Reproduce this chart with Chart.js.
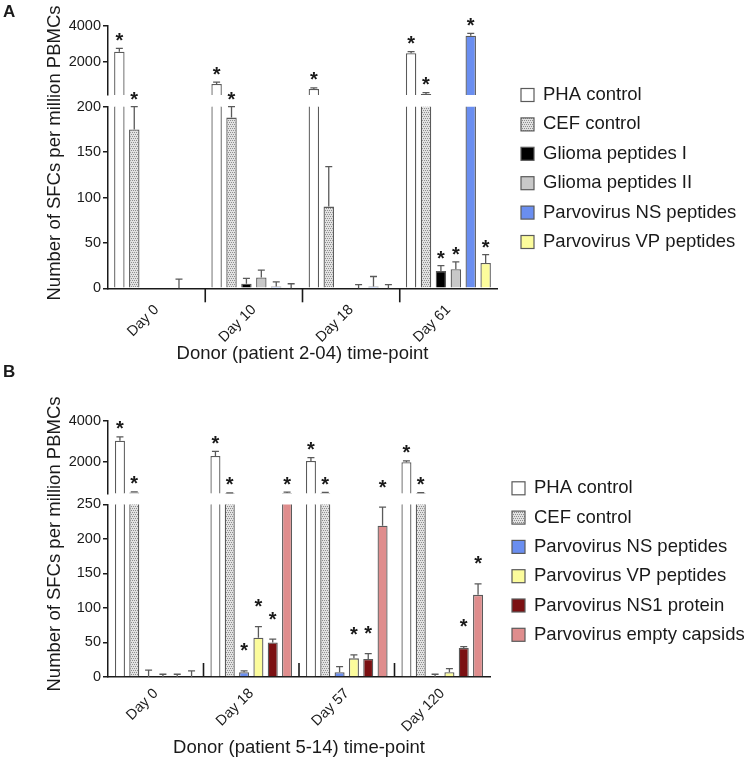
<!DOCTYPE html>
<html>
<head>
<meta charset="utf-8">
<script src="https://cdn.jsdelivr.net/npm/chart.js@4.4.1/dist/chart.umd.min.js"></script>
<style>
  html, body { margin: 0; padding: 0; background: #fff; }
  #wrap { position: relative; width: 744px; height: 760px; }
  #wrap canvas { position: absolute; left: 0; top: 0; }
</style>
</head>
<body>
<div id="wrap">
  <canvas id="aTop" width="744" height="760"></canvas>
  <canvas id="aBottom" width="744" height="760"></canvas>
  <canvas id="bTop" width="744" height="760"></canvas>
  <canvas id="bBottom" width="744" height="760"></canvas>
</div>
<script>
// ---------- panel A (patient 2-04) ----------
const daysA = ['Day 0', 'Day 10', 'Day 18', 'Day 61'];
const phaA = [2575, 800, 530, 2490];
const phaErrA = [185, 110, 60, 90];
const cefA = [175, 188, 90, 255];
const cefErrA = [25, 12, 44, 70];
const gliomaIA = [null, 5, null, 19];
const gliomaIErrA = [0, 6, 0, 6];
const gliomaIIA = [null, 12, 0, 21];
const gliomaIIErrA = [0, 8, 4, 8];
const nsA = [0, 2, 2, 3450];
const nsErrA = [10, 5, 11, 130];
const vpA = [null, 0, 0, 28];
const vpErrA = [0, 5, 4, 9];
const phaStarA = [1, 1, 1, 1];
const cefStarA = [1, 1, 0, 1];
const gliomaIStarA = [0, 0, 0, 1];
const gliomaIIStarA = [0, 0, 0, 1];
const nsStarA = [0, 0, 0, 1];
const vpStarA = [0, 0, 0, 1];
const upperTicksA = [2000, 4000];
const lowerTicksA = [0, 50, 100, 150, 200];

// ---------- panel B (patient 5-14) ----------
const daysB = ['Day 0', 'Day 18', 'Day 57', 'Day 120'];
const phaB = [3030, 2300, 2060, 2000];
const phaErrB = [190, 220, 160, 60];
const cefB = [540, 510, 520, 520];
const cefErrB = [30, 10, 20, 15];
const nsB = [0, 7, 7, 0];
const nsErrB = [10, 2, 8, 4];
const vpB = [0, 57, 27, 7];
const vpErrB = [4, 16, 5, 5];
const ns1B = [0, 50, 26, 42];
const ns1ErrB = [4, 5, 8, 2];
const capsidB = [0, 520, 219, 119];
const capsidErrB = [9, 40, 27, 16];
const phaStarB = [1, 1, 1, 1];
const cefStarB = [1, 1, 1, 1];
const nsStarB = [0, 1, 0, 0];
const vpStarB = [0, 1, 1, 0];
const ns1StarB = [0, 1, 1, 1];
const capsidStarB = [0, 1, 1, 1];
const upperTicksB = [2000, 4000];
const lowerTicksB = [0, 50, 100, 150, 200, 250];

const FONT = '"Liberation Sans", Arial, Helvetica, sans-serif';
const INK = '#1a1a1a';
Chart.defaults.font.family = FONT;
Chart.defaults.color = INK;

// stippled grey fill for the CEF control
function stipple() {
    let c = document.createElement('canvas');
    c.width = 4; c.height = 4;
    let g = c.getContext('2d');
    g.fillStyle = '#e2e2e2';
    g.fillRect(0, 0, 4, 4);
    g.fillStyle = '#8e8e8e';
    [[0, 0], [2, 0], [1, 2], [3, 2]].forEach(p => g.fillRect(p[0], p[1], 1, 1));
    return g.createPattern(c, 'repeat');
}
const cefFill = stipple();

function series(label, fill, data, errors, stars) {
    return { label, fill, data, errors, stars };
}

const seriesA = [
    series('PHA control', '#ffffff', phaA, phaErrA, phaStarA),
    series('CEF control', cefFill, cefA, cefErrA, cefStarA),
    series('Glioma peptides I', '#000000', gliomaIA, gliomaIErrA, gliomaIStarA),
    series('Glioma peptides II', '#c8c8c8', gliomaIIA, gliomaIIErrA, gliomaIIStarA),
    series('Parvovirus NS peptides', '#6a8ef0', nsA, nsErrA, nsStarA),
    series('Parvovirus VP peptides', '#fcfc9c', vpA, vpErrA, vpStarA)
];
const seriesB = [
    series('PHA control', '#ffffff', phaB, phaErrB, phaStarB),
    series('CEF control', cefFill, cefB, cefErrB, cefStarB),
    series('Parvovirus NS peptides', '#6a8ef0', nsB, nsErrB, nsStarB),
    series('Parvovirus VP peptides', '#fcfc9c', vpB, vpErrB, vpStarB),
    series('Parvovirus NS1 protein', '#7b1012', ns1B, ns1ErrB, ns1StarB),
    series('Parvovirus empty capsids', '#df8d8d', capsidB, capsidErrB, capsidStarB)
];

function datasets(list) {
    return list.map(s => ({
        label: s.label,
        data: s.data.slice(),
        errors: s.errors,
        stars: s.stars,
        backgroundColor: s.fill,
        borderColor: '#5a5a5a',
        borderWidth: 1.3,
        borderSkipped: 'start',
        clip: 0
    }));
}

// upward error bars, clipped to the segment
const errorBars = {
    id: 'errorBars',
    afterDatasetsDraw(chart) {
        let ctx = chart.ctx, y = chart.scales.y;
        ctx.save();
        ctx.strokeStyle = '#5a5a5a';
        ctx.lineWidth = 1.3;
        chart.data.datasets.forEach((ds, di) => {
            let meta = chart.getDatasetMeta(di);
            ds.data.forEach((v, i) => {
                if (v == null || !ds.errors[i]) return;
                let top = v + ds.errors[i];
                let lo = Math.max(v, y.min), hi = Math.min(top, y.max);
                if (hi <= lo) return;
                let x = meta.data[i].x;
                let y0 = y.getPixelForValue(lo), y1 = y.getPixelForValue(hi);
                ctx.beginPath();
                ctx.moveTo(x, y0); ctx.lineTo(x, y1);
                if (top <= y.max) { ctx.moveTo(x - 3.5, y1); ctx.lineTo(x + 3.5, y1); }
                ctx.stroke();
            });
        });
        ctx.restore();
    }
};

// significance asterisks
const starMarks = {
    id: 'starMarks',
    afterDraw(chart, args, opts) {
        let ctx = chart.ctx, y = chart.scales.y;
        ctx.save();
        ctx.font = 'bold 20px ' + FONT;
        ctx.fillStyle = INK;
        ctx.textAlign = 'center';
        ctx.textBaseline = 'alphabetic';
        chart.data.datasets.forEach((ds, di) => {
            let meta = chart.getDatasetMeta(di);
            ds.data.forEach((v, i) => {
                if (v == null || !ds.stars[i]) return;
                let top = v + ds.errors[i];
                let cy;
                if (opts.upper) {
                    if (top <= opts.split) return;
                    cy = y.getPixelForValue(Math.max(top, y.min)) - opts.offset;
                } else {
                    if (top > opts.split) return;
                    cy = y.getPixelForValue(top) - opts.offset;
                }
                ctx.fillText('*', meta.data[i].x, cy + 11.5);
            });
        });
        ctx.restore();
    }
};

// separators between the time-points on the x axis
const groupTicks = {
    id: 'groupTicks',
    afterDraw(chart, args, opts) {
        if (!opts.len) return;
        let ctx = chart.ctx, x = chart.scales.x, base = chart.chartArea.bottom;
        ctx.save();
        ctx.strokeStyle = INK;
        ctx.lineWidth = 1.6;
        for (let i = 0; i < x.ticks.length - 1; i++) {
            let px = (x.getPixelForTick(i) + x.getPixelForTick(i + 1)) / 2;
            ctx.beginPath();
            ctx.moveTo(px, base);
            ctx.lineTo(px, base + opts.len);
            ctx.stroke();
        }
        ctx.restore();
    }
};

// legend, panel letter and shared y title
const panelDecor = {
    id: 'panelDecor',
    afterDraw(chart, args, opts) {
        if (!opts.letter) return;
        let ctx = chart.ctx;
        ctx.save();
        ctx.fillStyle = INK;
        ctx.font = 'bold 17px ' + FONT;
        ctx.textAlign = 'left';
        ctx.textBaseline = 'alphabetic';
        ctx.fillText(opts.letter, 3, opts.letterY);

        ctx.translate(opts.titleX, opts.titleY);
        ctx.rotate(-Math.PI / 2);
        ctx.font = '18.5px ' + FONT;
        ctx.textAlign = 'center';
        ctx.textBaseline = 'middle';
        ctx.fillText('Number of SFCs per million PBMCs', 0, 0);
        ctx.setTransform(1, 0, 0, 1, 0, 0);

        ctx.font = '18.5px ' + FONT;
        ctx.textAlign = 'left';
        chart.data.datasets.forEach((ds, i) => {
            let cy = opts.legendY + i * opts.legendGap;
            ctx.fillStyle = ds.backgroundColor;
            ctx.fillRect(opts.legendX, cy - 6.5, 13, 13);
            ctx.strokeStyle = '#5a5a5a';
            ctx.lineWidth = 1.2;
            ctx.strokeRect(opts.legendX, cy - 6.5, 13, 13);
            ctx.fillStyle = INK;
            ctx.fillText(ds.label, opts.legendX + 22, cy);
        });
        ctx.restore();
    }
};

function segment(id, cfg) {
    let yScale = {
        min: cfg.min,
        max: cfg.max,
        ticks: { font: { size: 14.5 }, color: INK, padding: 2, callback: v => String(v) },
        grid: { drawOnChartArea: false, drawTicks: true, tickLength: 5, color: INK, lineWidth: 1.5 },
        border: { display: true, color: INK, width: 1.5 },
        afterFit: s => { s.width = 50; },
        afterBuildTicks: s => { s.ticks = cfg.ticks.map(v => ({ value: v })); }
    };
    let xScale = cfg.xTitle ? {
        grid: { display: false, drawTicks: false },
        border: { display: true, color: INK, width: 1.5 },
        ticks: { font: { size: 14.5 }, color: INK, minRotation: 45, maxRotation: 45, autoSkip: false, padding: cfg.labelPad },
        title: { display: true, text: cfg.xTitle, color: INK, font: { size: 18.5 }, padding: { top: 0, bottom: cfg.titlePad } },
        afterFit: s => { s.height = cfg.xHeight; }
    } : { display: false };

    return new Chart(document.getElementById(id), {
        type: 'bar',
        data: { labels: cfg.labels, datasets: datasets(cfg.series) },
        plugins: [errorBars, starMarks, groupTicks, panelDecor],
        options: {
            responsive: false,
            animation: false,
            events: [],
            layout: { padding: { left: 58, right: cfg.right, top: cfg.top, bottom: cfg.bottom } },
            datasets: { bar: { categoryPercentage: cfg.catPct, barPercentage: 0.7 } },
            plugins: {
                legend: { display: false },
                tooltip: { enabled: false },
                starMarks: cfg.stars,
                groupTicks: { len: cfg.tickLen || 0 },
                panelDecor: cfg.decor || {}
            },
            scales: { x: xScale, y: yScale }
        }
    });
}

// panel A: upper segment 200-4000, lower 0-200
segment('aTop', {
    labels: daysA, series: seriesA, min: 200, max: 4000, ticks: upperTicksA,
    top: 25.7, bottom: 665, right: 247, catPct: 0.92,
    stars: { upper: true, split: 200, offset: 13 }
});
segment('aBottom', {
    labels: daysA, series: seriesA, min: 0, max: 200, ticks: lowerTicksA,
    top: 106.7, bottom: 391.7, right: 247, catPct: 0.92,
    xTitle: 'Donor (patient 2-04) time-point', xHeight: 80, titlePad: 3, labelPad: 13,
    tickLen: 14,
    stars: { upper: false, split: 200, offset: 12 },
    decor: { letter: 'A', letterY: 17, titleX: 55, titleY: 153, legendX: 521, legendY: 95, legendGap: 29.4 }
});

// panel B: upper segment 500-4000, lower 0-250
segment('bTop', {
    labels: daysB, series: seriesB, min: 500, max: 4000, ticks: upperTicksB,
    top: 420.7, bottom: 266.7, right: 254, catPct: 0.9,
    stars: { upper: true, split: 250, offset: 13 }
});
segment('bBottom', {
    labels: daysB, series: seriesB, min: 0, max: 250, ticks: lowerTicksB,
    top: 504.4, bottom: 1, right: 254, catPct: 0.9,
    xTitle: 'Donor (patient 5-14) time-point', xHeight: 82, titlePad: 0, labelPad: 8,
    tickLen: -14,
    stars: { upper: false, split: 250, offset: 25 },
    decor: { letter: 'B', letterY: 377, titleX: 55, titleY: 544, legendX: 512, legendY: 488.3, legendGap: 29.3 }
});
</script>
</body>
</html>
